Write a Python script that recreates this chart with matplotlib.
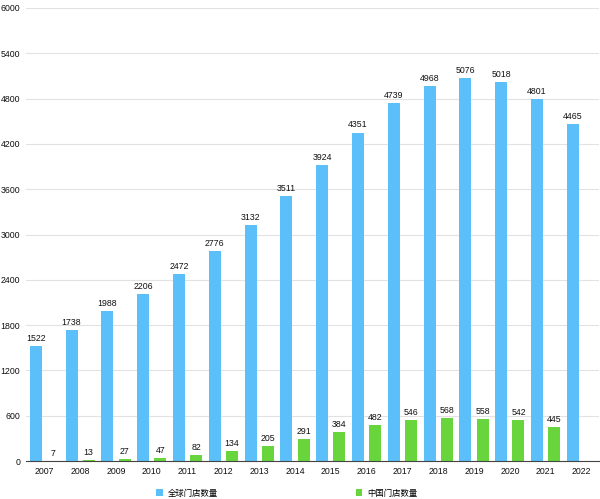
import numpy as np
import matplotlib.pyplot as plt

plt.rcParams['font.family'] = ['Noto Sans CJK SC', 'DejaVu Sans']

years = ["2007", "2008", "2009", "2010", "2011", "2012", "2013", "2014",
         "2015", "2016", "2017", "2018", "2019", "2020", "2021", "2022"]
global_stores = [1522, 1738, 1988, 2206, 2472, 2776, 3132, 3511,
                 3924, 4351, 4739, 4968, 5076, 5018, 4801, 4465]
china_stores = [7, 13, 27, 47, 82, 134, 205, 291,
                384, 482, 546, 568, 558, 542, 445, None]
yticks = [0, 600, 1200, 1800, 2400, 3000, 3600, 4200, 4800, 5400, 6000]

blue = "#5bc0f9"
green = "#68d53c"
num_font = "Liberation Sans"
fs = 6.3
tc = "#111111"

fig = plt.figure(figsize=(6, 4.99), dpi=100)
ax = fig.add_axes([0.044, 0.076, 0.955, 0.908])

x = np.arange(len(years))
w = 0.335
off = 0.24
ax.bar(x - off, global_stores, w, color=blue, label="全球门店数量", zorder=3)
cx = [i for i, v in enumerate(china_stores) if v is not None]
cv = [v for v in china_stores if v is not None]
ax.bar(x[cx] + off, cv, w, color=green, label="中国门店数量", zorder=3)

for i, v in enumerate(global_stores):
    ax.text(i - off, v + 40, str(v), ha="center", va="bottom", fontsize=fs,
            color=tc, family=num_font)
for i, v in zip(cx, cv):
    ax.text(i + off, v + 40, str(v), ha="center", va="bottom", fontsize=fs,
            color=tc, family=num_font)

ax.set_xlim(-0.5, len(years) - 0.5)
ax.set_ylim(0, 6000)
ax.set_yticks(yticks)
ax.set_yticklabels([str(t) for t in yticks], fontsize=fs, color=tc,
                   family=num_font)
ax.set_xticks(x)
ax.set_xticklabels(years, fontsize=fs, color=tc, family=num_font)
ax.tick_params(axis="both", length=0)
ax.tick_params(axis="y", pad=4.5)
ax.tick_params(axis="x", pad=4)
ax.grid(axis="y", color="#e2e2e2", linewidth=0.8, zorder=0)
for s in ["top", "right", "left"]:
    ax.spines[s].set_visible(False)
ax.spines["bottom"].set_color("#444444")
ax.spines["bottom"].set_linewidth(0.8)
ax.spines["bottom"].set_zorder(4)

fig.legend(loc="lower center", bbox_to_anchor=(0.478, -0.012), ncol=2,
           frameon=False, fontsize=6, handlelength=0.8, handleheight=0.8,
           columnspacing=16.5, handletextpad=0.6)

fig.savefig("out.png", dpi=100)
